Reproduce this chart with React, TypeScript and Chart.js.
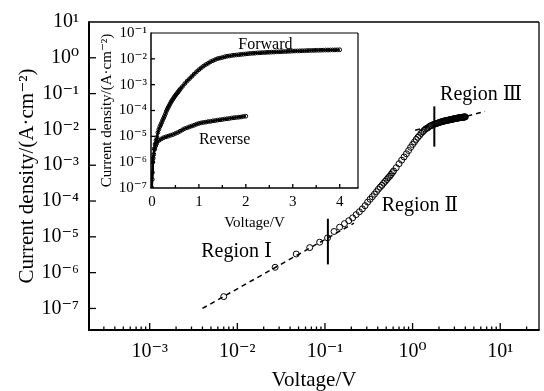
import React, { useEffect, useRef } from 'react';
import { Chart, registerables } from 'chart.js';

Chart.register(...registerables);

const FONT = "'Liberation Serif', 'Times New Roman', 'DejaVu Serif', serif";

// Forward J–V data (V in volts, J in A·cm⁻²)
const forwardV = [
  0.007, 0.027, 0.047, 0.067, 0.087, 0.107, 0.127, 0.147, 0.167, 0.187,
  0.207, 0.227, 0.247, 0.267, 0.287, 0.307, 0.327, 0.347, 0.367, 0.387,
  0.407, 0.427, 0.447, 0.467, 0.487, 0.507, 0.527, 0.547, 0.567, 0.587, 0.607,
  0.65, 0.70, 0.75, 0.80, 0.85, 0.90, 0.95, 1.00,
  1.05, 1.10, 1.15, 1.20, 1.25, 1.30, 1.35, 1.40, 1.45, 1.50,
  1.55, 1.60, 1.65, 1.70, 1.75, 1.80, 1.85, 1.90, 1.95, 2.00,
  2.05, 2.10, 2.15, 2.20, 2.25, 2.30, 2.35, 2.40, 2.45, 2.50,
  2.55, 2.60, 2.65, 2.70, 2.75, 2.80, 2.85, 2.90, 2.95, 3.00,
  3.05, 3.10, 3.15, 3.20, 3.25, 3.30, 3.35, 3.40, 3.45, 3.50,
  3.55, 3.60, 3.65, 3.70, 3.75, 3.80, 3.85, 3.90, 3.95, 4.00,
];
const forwardJ = [
  2.14e-7, 1.41e-6, 3.31e-6, 5.0e-6, 7.08e-6, 9.33e-6, 1.41e-5, 1.86e-5, 2.34e-5, 2.82e-5,
  3.39e-5, 4.17e-5, 5.01e-5, 6.03e-5, 7.41e-5, 9.33e-5, 1.12e-4, 1.32e-4, 1.55e-4, 1.82e-4,
  2.14e-4, 2.45e-4, 2.75e-4, 3.16e-4, 3.55e-4, 3.98e-4, 4.47e-4, 4.90e-4, 5.50e-4, 6.17e-4, 6.92e-4,
  8.51e-4, 1.10e-3, 1.38e-3, 1.70e-3, 2.09e-3, 2.57e-3, 3.16e-3, 3.80e-3,
  4.47e-3, 5.25e-3, 6.03e-3, 6.76e-3, 7.76e-3, 8.51e-3, 9.33e-3, 1.02e-2, 1.07e-2, 1.12e-2,
  1.20e-2, 1.26e-2, 1.29e-2, 1.35e-2, 1.38e-2, 1.41e-2, 1.45e-2, 1.48e-2, 1.51e-2, 1.55e-2,
  1.58e-2, 1.62e-2, 1.64e-2, 1.66e-2, 1.70e-2, 1.71e-2, 1.74e-2, 1.75e-2, 1.78e-2, 1.79e-2,
  1.82e-2, 1.83e-2, 1.86e-2, 1.87e-2, 1.90e-2, 1.91e-2, 1.92e-2, 1.95e-2, 1.96e-2, 2.00e-2,
  2.01e-2, 2.02e-2, 2.04e-2, 2.05e-2, 2.06e-2, 2.09e-2, 2.10e-2, 2.11e-2, 2.12e-2, 2.14e-2,
  2.15e-2, 2.16e-2, 2.17e-2, 2.19e-2, 2.19e-2, 2.20e-2, 2.21e-2, 2.22e-2, 2.23e-2, 2.24e-2,
];

// Reverse J–V data (inset only)
const reverseV = [
  0, 0.01, 0.02, 0.04, 0.06, 0.08, 0.10,
  0.15, 0.20, 0.25, 0.30, 0.35, 0.40, 0.45, 0.50, 0.55, 0.60,
  0.65, 0.70, 0.75, 0.80, 0.85, 0.90, 0.95, 1.00,
  1.05, 1.10, 1.15, 1.20, 1.25, 1.30, 1.35, 1.40, 1.45, 1.50,
  1.55, 1.60, 1.65, 1.70, 1.75, 1.80, 1.85, 1.90, 1.95, 2.00,
];
const reverseJ = [
  1.0e-7, 3.98e-7, 1.0e-6, 2.0e-6, 3.16e-6, 4.27e-6, 5.25e-6,
  6.92e-6, 7.94e-6, 8.91e-6, 9.55e-6, 1.02e-5, 1.10e-5, 1.17e-5, 1.29e-5, 1.41e-5, 1.58e-5,
  1.78e-5, 2.0e-5, 2.14e-5, 2.34e-5, 2.51e-5, 2.69e-5, 2.95e-5, 3.16e-5,
  3.31e-5, 3.47e-5, 3.55e-5, 3.72e-5, 3.80e-5, 3.98e-5, 4.07e-5, 4.27e-5, 4.37e-5, 4.47e-5,
  4.68e-5, 4.79e-5, 4.90e-5, 5.13e-5, 5.25e-5, 5.37e-5, 5.50e-5, 5.62e-5, 5.89e-5, 6.03e-5,
];

// Fitted lines (dashed) and region boundaries
const fitRegionIV = [0.004, 0.214];
const fitRegionIJ = [1.0e-7, 2.4e-5];
const fitRegionIIIV = [1.07, 6.7];
const fitRegionIIIJ = [9.5e-3, 3.2e-2];
const boundaryI_IIV = [0.108, 0.108];
const boundaryI_IIJ = [1.7e-6, 3.2e-5];
const boundaryII_IIIV = [1.77, 1.77];
const boundaryII_IIIJ = [3.3e-3, 4.4e-2];

// Ticks
const mainXTicks = [1e-3, 1e-2, 1e-1, 1, 10];
const mainXTickLabels = ['10⁻³', '10⁻²', '10⁻¹', '10⁰', '10¹'];
const mainYTicks = [1e-7, 1e-6, 1e-5, 1e-4, 1e-3, 1e-2, 1e-1, 1, 10];
const mainYTickLabels = ['10⁻⁷', '10⁻⁶', '10⁻⁵', '10⁻⁴', '10⁻³', '10⁻²', '10⁻¹', '10⁰', '10¹'];
const insetXTicks = [0, 1, 2, 3, 4];
const insetXTickLabels = ['0', '1', '2', '3', '4'];
const insetXMinor = [0.5, 1.5, 2.5, 3.5];
const insetYTicks = [1e-7, 1e-6, 1e-5, 1e-4, 1e-3, 1e-2, 1e-1];
const insetYTickLabels = ['10⁻⁷', '10⁻⁶', '10⁻⁵', '10⁻⁴', '10⁻³', '10⁻²', '10⁻¹'];

// Annotations
const regionLabels = ['Region Ⅰ', 'Region Ⅱ', 'Region Ⅲ'];
const regionLabelV = [0.00387, 0.444, 2.06];
const regionLabelJ = [3.9e-6, 7.4e-5, 9.1e-2];
const insetLabels = ['Forward', 'Reverse'];
const insetLabelV = [1.84, 1.0];
const insetLabelJ = [3.4e-2, 7.6e-6];

const pts = (xs: number[], ys: number[]) => xs.map((x, i) => ({ x, y: ys[i] }));

function line(ctx: CanvasRenderingContext2D, x1: number, y1: number, x2: number, y2: number) {
  ctx.beginPath();
  ctx.moveTo(x1, y1);
  ctx.lineTo(x2, y2);
  ctx.stroke();
}

type FrameCfg = {
  thick: number;
  thin: number;
  xMajor: number[];
  xMinor: number[];
  yMajor: number[];
  majorLen: number;
  minorLen: number;
  labels: string[];
  labelX: number[];
  labelY: number[];
  labelFont: string;
};

function framePlugin(cfg: FrameCfg) {
  return {
    id: 'frame',
    afterDraw(chart: any) {
      const { ctx, chartArea: a, scales } = chart;
      ctx.save();
      ctx.strokeStyle = '#000';
      ctx.lineCap = 'butt';
      ctx.lineWidth = cfg.thin;
      line(ctx, a.left, a.top, a.right, a.top);
      line(ctx, a.right, a.top, a.right, a.bottom);
      ctx.lineWidth = cfg.thick;
      line(ctx, a.left - cfg.thick / 2, a.bottom, a.right + cfg.thin / 2, a.bottom);
      line(ctx, a.left, a.top - cfg.thin / 2, a.left, a.bottom);
      ctx.lineWidth = 1.3;
      for (const v of cfg.xMajor) {
        const px = scales.x.getPixelForValue(v);
        if (px > a.left + 1 && px < a.right - 1) line(ctx, px, a.bottom, px, a.bottom - cfg.majorLen);
      }
      for (const v of cfg.xMinor) {
        const px = scales.x.getPixelForValue(v);
        if (px > a.left + 1 && px < a.right - 1) line(ctx, px, a.bottom, px, a.bottom - cfg.minorLen);
      }
      for (const v of cfg.yMajor) {
        const py = scales.y.getPixelForValue(v);
        if (py > a.top + 1 && py < a.bottom - 1) line(ctx, a.left, py, a.left + cfg.majorLen, py);
      }
      ctx.fillStyle = '#000';
      ctx.font = cfg.labelFont;
      ctx.textAlign = 'left';
      ctx.textBaseline = 'middle';
      cfg.labels.forEach((t, i) => {
        ctx.fillText(t, scales.x.getPixelForValue(cfg.labelX[i]), scales.y.getPixelForValue(cfg.labelY[i]));
      });
      ctx.restore();
    },
  };
}

// main-x minor tick values (2..9 within each decade)
const mainXMinor: number[] = [];
for (const d of [1e-4, 1e-3, 1e-2, 1e-1, 1, 10]) {
  for (const m of [2, 3, 4, 5, 6, 7, 8, 9]) mainXMinor.push(m * d);
}

export default function App() {
  const mainRef = useRef<HTMLCanvasElement>(null);
  const insetRef = useRef<HTMLCanvasElement>(null);

  useEffect(() => {
    const tickFont = { family: FONT, size: 20 };
    const main = new Chart(mainRef.current as HTMLCanvasElement, {
      type: 'scatter',
      data: {
        datasets: [
          {
            data: pts(boundaryI_IIV, boundaryI_IIJ),
            showLine: true, borderColor: '#000', borderWidth: 2, pointRadius: 0,
          },
          {
            data: pts(boundaryII_IIIV, boundaryII_IIIJ),
            showLine: true, borderColor: '#000', borderWidth: 2, pointRadius: 0,
          },
          {
            data: pts(forwardV, forwardJ),
            showLine: false, pointRadius: 3, pointBorderWidth: 1,
            pointBorderColor: '#000', pointBackgroundColor: 'rgba(0,0,0,0)',
          },
          {
            data: pts(fitRegionIV, fitRegionIJ),
            showLine: true, borderColor: '#000', borderWidth: 1.5, borderDash: [5, 4], pointRadius: 0,
          },
          {
            data: pts(fitRegionIIIV, fitRegionIIIJ),
            showLine: true, borderColor: '#000', borderWidth: 1.5, borderDash: [5, 4], pointRadius: 0,
          },
        ] as any,
      },
      options: {
        responsive: false,
        animation: false,
        events: [],
        layout: { padding: { left: 0, right: 3, top: 16, bottom: 0 } },
        plugins: { legend: { display: false }, tooltip: { enabled: false } },
        scales: {
          x: {
            type: 'logarithmic',
            min: 2.03e-4,
            max: 27.7,
            grid: { display: false, drawTicks: false },
            border: { display: false },
            afterBuildTicks: (s: any) => { s.ticks = mainXTicks.map((v) => ({ value: v })); },
            ticks: {
              autoSkip: false, maxRotation: 0, padding: 10, color: '#000', font: tickFont,
              callback: (v: any) => mainXTickLabels[mainXTicks.indexOf(Number(v))] ?? '',
            },
            title: {
              display: true, text: 'Voltage/V', color: '#000',
              font: { family: FONT, size: 21, lineHeight: 1.0 }, padding: { top: 0, bottom: 0 },
            },
            afterFit: (s: any) => { s.height = 61; },
          },
          y: {
            type: 'logarithmic',
            min: 2.5e-8,
            max: 10,
            grid: { display: false, drawTicks: false },
            border: { display: false },
            afterBuildTicks: (s: any) => { s.ticks = mainYTicks.map((v) => ({ value: v })); },
            ticks: {
              autoSkip: false, padding: 10, color: '#000', font: tickFont,
              callback: (v: any) => mainYTickLabels[mainYTicks.indexOf(Number(v))] ?? '',
            },
            title: {
              display: true, text: 'Current density/(A·cm⁻²)', color: '#000',
              font: { family: FONT, size: 21 }, padding: { top: 15, bottom: 0 },
            },
            afterFit: (s: any) => { s.width = 89; },
          },
        },
      } as any,
      plugins: [
        framePlugin({
          thick: 2, thin: 1.3,
          xMajor: mainXTicks, xMinor: mainXMinor, yMajor: mainYTicks,
          majorLen: 7, minorLen: 3.5,
          labels: regionLabels, labelX: regionLabelV, labelY: regionLabelJ,
          labelFont: `20px ${FONT}`,
        }),
      ],
    });

    const insetTickFont = { family: FONT, size: 15 };
    const inset = new Chart(insetRef.current as HTMLCanvasElement, {
      type: 'scatter',
      data: {
        datasets: [
          {
            data: pts(forwardV, forwardJ),
            showLine: true, borderColor: '#000', borderWidth: 2.2,
            pointRadius: 1.9, pointBorderWidth: 1,
            pointBorderColor: '#000', pointBackgroundColor: 'rgba(0,0,0,0)',
          },
          {
            data: pts(reverseV, reverseJ),
            showLine: true, borderColor: '#000', borderWidth: 2.2,
            pointRadius: 1.9, pointBorderWidth: 1,
            pointBorderColor: '#000', pointBackgroundColor: 'rgba(0,0,0,0)',
          },
        ] as any,
      },
      options: {
        responsive: false,
        animation: false,
        events: [],
        layout: { padding: { left: 0, right: 7, top: 11, bottom: 3 } },
        plugins: { legend: { display: false }, tooltip: { enabled: false } },
        scales: {
          x: {
            type: 'linear',
            min: -0.02,
            max: 4.39,
            grid: { display: false, drawTicks: false },
            border: { display: false },
            afterBuildTicks: (s: any) => { s.ticks = insetXTicks.map((v) => ({ value: v })); },
            ticks: {
              autoSkip: false, maxRotation: 0, padding: 5, color: '#000', font: insetTickFont,
              callback: (v: any) => insetXTickLabels[insetXTicks.indexOf(Number(v))] ?? '',
            },
            title: {
              display: true, text: 'Voltage/V', color: '#000',
              font: { family: FONT, size: 15 }, padding: { top: 0, bottom: 0 },
            },
            afterFit: (s: any) => { s.height = 44; },
          },
          y: {
            type: 'logarithmic',
            min: 1e-7,
            max: 1e-1,
            grid: { display: false, drawTicks: false },
            border: { display: false },
            afterBuildTicks: (s: any) => { s.ticks = insetYTicks.map((v) => ({ value: v })); },
            ticks: {
              autoSkip: false, padding: 4, color: '#000', font: insetTickFont,
              callback: (v: any) => insetYTickLabels[insetYTicks.indexOf(Number(v))] ?? '',
            },
            title: {
              display: true, text: 'Current density/(A·cm⁻²)', color: '#000',
              font: { family: FONT, size: 15 }, padding: { top: 3, bottom: 0 },
            },
            afterFit: (s: any) => { s.width = 56; },
          },
        },
      } as any,
      plugins: [
        framePlugin({
          thick: 1.5, thin: 1.2,
          xMajor: insetXTicks, xMinor: insetXMinor, yMajor: insetYTicks,
          majorLen: 4, minorLen: 3,
          labels: insetLabels, labelX: insetLabelV, labelY: insetLabelJ,
          labelFont: `16px ${FONT}`,
        }),
      ],
    });

    return () => {
      main.destroy();
      inset.destroy();
    };
  }, []);

  return (
    <div style={{ position: 'absolute', left: 0, top: 0, width: 544, height: 391, background: '#fff' }}>
      <canvas ref={mainRef} width={544} height={391} style={{ position: 'absolute', left: 0, top: 0 }} />
      <canvas ref={insetRef} width={270} height={215} style={{ position: 'absolute', left: 95, top: 20 }} />
    </div>
  );
}
